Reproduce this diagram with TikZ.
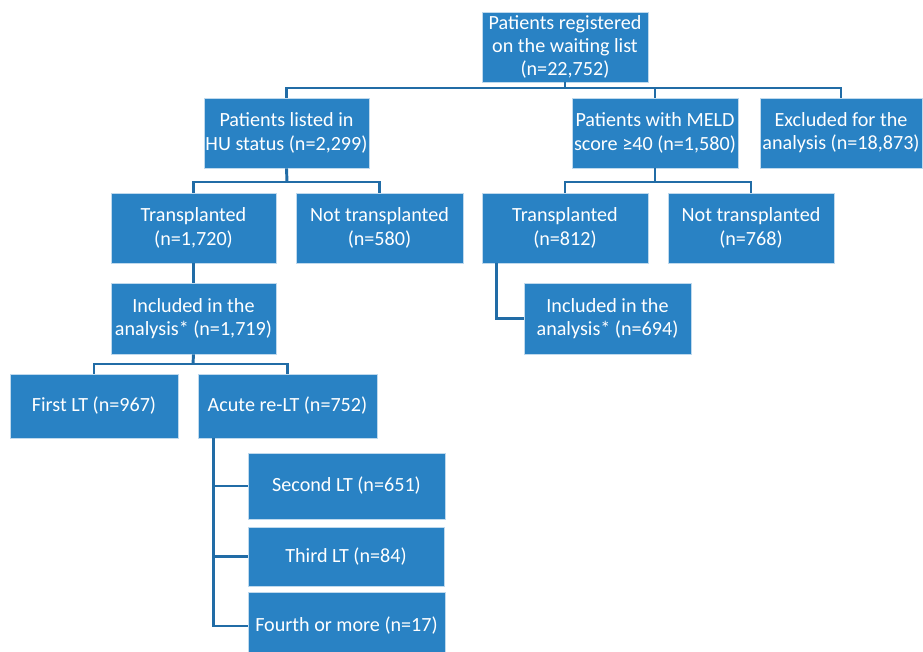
\documentclass[tikz,border=0pt]{standalone}
\usepackage{fontspec}
\setmainfont{Carlito}
\definecolor{boxfill}{RGB}{41,130,196}
\definecolor{linecol}{RGB}{33,108,166}
\tikzset{
  box/.style={draw=white!70!boxfill, line width=0.6pt, fill=boxfill, text=white, align=center, inner sep=0pt,
    font=\fontsize{15.1}{17.4}\selectfont},
  conn/.style={draw=linecol, line width=2.2pt}
}
\begin{document}
\begin{tikzpicture}[x=0.75pt,y=-0.75pt]
\useasboundingbox (0,0) rectangle (923,652);
\node[box, minimum width=166*0.75pt, minimum height=70*0.75pt] (root) at (565,47) {Patients registered\\on the waiting list\\(n=22,752)};
\node[box, minimum width=165*0.75pt, minimum height=70*0.75pt] (hu) at (286.5,133) {Patients listed in\\HU status (n=2,299)};
\node[box, minimum width=166*0.75pt, minimum height=70*0.75pt] (meld) at (655,133) {Patients with MELD\\score ≥40 (n=1,580)};
\node[box, minimum width=162*0.75pt, minimum height=70*0.75pt] (excl) at (841,133) {Excluded for the\\analysis (n=18,873)};
\node[box, minimum width=165*0.75pt, minimum height=70*0.75pt] (htr) at (193.5,228) {Transplanted\\(n=1,720)};
\node[box, minimum width=167*0.75pt, minimum height=70*0.75pt] (hnt) at (379.5,228) {Not transplanted\\(n=580)};
\node[box, minimum width=165*0.75pt, minimum height=71*0.75pt] (hinc) at (193.5,318.5) {Included in the\\analysis* (n=1,719)};
\node[box, minimum width=168*0.75pt, minimum height=64*0.75pt] (first) at (94,406) {First LT (n=967)};
\node[box, minimum width=179*0.75pt, minimum height=64*0.75pt] (acute) at (287.5,406) {Acute re-LT (n=752)};
\node[box, minimum width=197*0.75pt, minimum height=66*0.75pt] (second) at (346.5,486) {Second LT (n=651)};
\node[box, minimum width=196*0.75pt, minimum height=59*0.75pt] (third) at (346,556.5) {Third LT (n=84)};
\node[box, minimum width=197*0.75pt, minimum height=68*0.75pt] (fourth) at (346.5,626) {Fourth or more (n=17)};
\node[box, minimum width=166*0.75pt, minimum height=70*0.75pt] (mtr) at (565,228) {Transplanted\\(n=812)};
\node[box, minimum width=166*0.75pt, minimum height=70*0.75pt] (mnt) at (751,228) {Not transplanted\\(n=768)};
\node[box, minimum width=167*0.75pt, minimum height=71*0.75pt] (minc) at (607.5,318.5) {Included in the\\analysis* (n=694)};
% connectors
\coordinate (b1) at (565,88);
\coordinate (b2) at (287,182);
\coordinate (b3) at (193,364);
\coordinate (b4) at (655,182);
\coordinate (a1) at ([xshift=12pt]acute.south west);
\coordinate (m1) at ([xshift=11.25pt]mtr.south west);
\draw[conn] (root.south) -- (b1);
\draw[conn] (hu.north) |- (b1);
\draw[conn] (meld.north) |- (b1);
\draw[conn] (excl.north) |- (b1);
\draw[conn] (hu.south) -- (b2);
\draw[conn] (htr.north) |- (b2);
\draw[conn] (hnt.north) |- (b2);
\draw[conn] (htr.south) -- (hinc.north);
\draw[conn] (hinc.south) -- (b3);
\draw[conn] (first.north) |- (b3);
\draw[conn] (acute.north) |- (b3);
\draw[conn] (a1) |- (second.west);
\draw[conn] (a1) |- (third.west);
\draw[conn] (a1) |- (fourth.west);
\draw[conn] (meld.south) -- (b4);
\draw[conn] (mtr.north) |- (b4);
\draw[conn] (mnt.north) |- (b4);
\draw[conn] (m1) |- (minc.west);
\end{tikzpicture}
\end{document}
